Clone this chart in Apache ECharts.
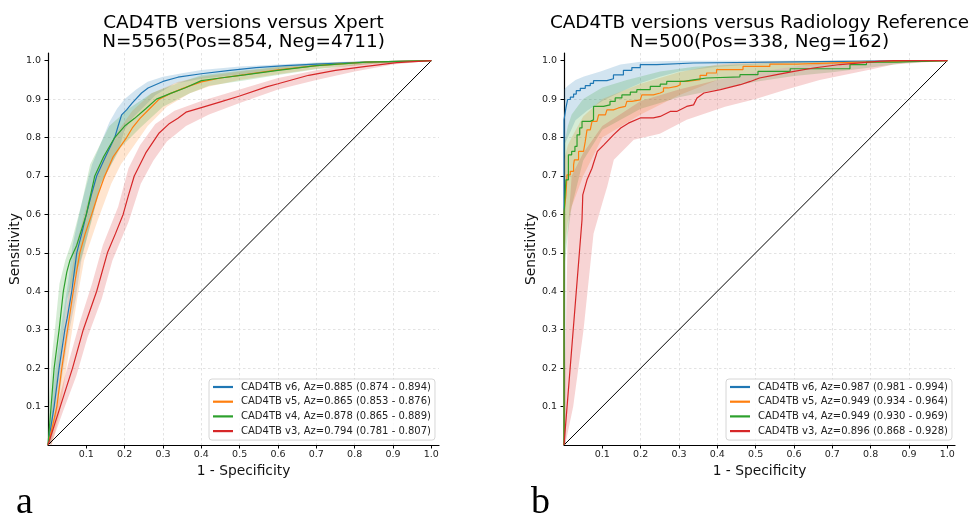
<!DOCTYPE html>
<html><head><meta charset="utf-8">
<script src="https://cdn.jsdelivr.net/npm/echarts@6/dist/echarts.min.js"></script>
<style>html,body{margin:0;padding:0;background:#fff}#c{width:974px;height:520px}</style>
</head><body><div id="c"></div>
<script>
// ---------- data ----------
const TICKS = [0.1,0.2,0.3,0.4,0.5,0.6,0.7,0.8,0.9,1.0];
const NAMES_A = ['CAD4TB v6, Az=0.885 (0.874 - 0.894)','CAD4TB v5, Az=0.865 (0.853 - 0.876)','CAD4TB v4, Az=0.878 (0.865 - 0.889)','CAD4TB v3, Az=0.794 (0.781 - 0.807)'];
const NAMES_B = ['CAD4TB v6, Az=0.987 (0.981 - 0.994)','CAD4TB v5, Az=0.949 (0.934 - 0.964)','CAD4TB v4, Az=0.949 (0.930 - 0.969)','CAD4TB v3, Az=0.896 (0.868 - 0.928)'];
const TITLE_A = 'CAD4TB versions versus Xpert\nN=5565(Pos=854, Neg=4711)';
const TITLE_B = 'CAD4TB versions versus Radiology Reference\nN=500(Pos=338, Neg=162)';
const PANEL_LABELS = ['a', 'b'];
const CHANCE = [[0,0],[1,1]];

// panel a: ROC curves [fpr, tpr]
const A_V6 = [[0,0],[0.008,0.05],[0.016,0.1],[0.029,0.2],[0.044,0.3],[0.05,0.33],[0.062,0.4],[0.075,0.5],[0.088,0.55],[0.10,0.6],[0.113,0.65],[0.127,0.7],[0.15,0.75],[0.174,0.8],[0.183,0.83],[0.192,0.859],[0.205,0.872],[0.22,0.89],[0.244,0.916],[0.261,0.929],[0.30,0.946],[0.339,0.957],[0.4,0.966],[0.469,0.974],[0.543,0.982],[0.62,0.987],[0.7,0.991],[0.83,0.996],[1,1]];
const A_V5 = [[0,0],[0.012,0.05],[0.023,0.1],[0.036,0.2],[0.051,0.3],[0.066,0.4],[0.083,0.5],[0.097,0.55],[0.114,0.6],[0.13,0.65],[0.148,0.7],[0.17,0.75],[0.205,0.8],[0.22,0.825],[0.24,0.85],[0.265,0.875],[0.29,0.9],[0.32,0.915],[0.357,0.93],[0.4,0.945],[0.45,0.955],[0.5,0.962],[0.6,0.976],[0.7,0.987],[0.83,0.996],[1,1]];
const A_V4 = [[0,0],[0.004,0.05],[0.008,0.1],[0.016,0.2],[0.029,0.3],[0.04,0.4],[0.049,0.45],[0.057,0.48],[0.075,0.52],[0.10,0.6],[0.122,0.7],[0.145,0.75],[0.174,0.8],[0.2,0.83],[0.226,0.85],[0.255,0.875],[0.283,0.9],[0.32,0.915],[0.357,0.929],[0.4,0.948],[0.45,0.955],[0.513,0.963],[0.6,0.975],[0.7,0.987],[0.83,0.9965],[1,1]];
const A_V3 = [[0,0],[0.032,0.1],[0.064,0.2],[0.092,0.3],[0.127,0.4],[0.155,0.5],[0.176,0.55],[0.196,0.6],[0.21,0.65],[0.225,0.7],[0.255,0.76],[0.29,0.812],[0.315,0.835],[0.339,0.85],[0.36,0.866],[0.4,0.878],[0.45,0.893],[0.5,0.908],[0.57,0.932],[0.6,0.94],[0.68,0.962],[0.75,0.975],[0.83,0.985],[0.91,0.995],[1,1]];
// panel a: confidence bands (upper / lower edges)
const A_V6_HI = [[0,0.01],[0.01,0.12],[0.022,0.22],[0.036,0.32],[0.052,0.42],[0.064,0.52],[0.088,0.63],[0.115,0.73],[0.16,0.84],[0.18,0.875],[0.2,0.9],[0.23,0.925],[0.26,0.945],[0.3,0.958],[0.35,0.967],[0.4,0.976],[0.5,0.985],[0.6,0.99],[0.7,0.995],[0.85,0.999],[1,1]];
const A_V6_LO = [[0.008,0],[0.022,0.08],[0.037,0.18],[0.052,0.28],[0.072,0.38],[0.087,0.48],[0.112,0.58],[0.14,0.68],[0.185,0.77],[0.2,0.82],[0.22,0.85],[0.25,0.88],[0.28,0.91],[0.33,0.94],[0.4,0.953],[0.5,0.964],[0.6,0.975],[0.7,0.985],[0.85,0.994],[1,1]];
const A_V5_HI = [[0,0.01],[0.015,0.12],[0.028,0.22],[0.043,0.32],[0.057,0.42],[0.073,0.52],[0.1,0.62],[0.132,0.72],[0.155,0.77],[0.185,0.82],[0.22,0.87],[0.27,0.915],[0.34,0.945],[0.4,0.958],[0.5,0.972],[0.6,0.983],[0.7,0.993],[0.85,0.999],[1,1]];
const A_V5_LO = [[0.01,0],[0.03,0.08],[0.045,0.18],[0.06,0.28],[0.076,0.38],[0.094,0.48],[0.128,0.58],[0.165,0.68],[0.19,0.73],[0.225,0.78],[0.26,0.83],[0.31,0.88],[0.37,0.915],[0.42,0.933],[0.5,0.95],[0.6,0.965],[0.7,0.979],[0.85,0.992],[1,1]];
const A_V4_HI = [[0,0.02],[0.003,0.12],[0.009,0.22],[0.02,0.32],[0.03,0.42],[0.045,0.48],[0.062,0.53],[0.088,0.63],[0.11,0.73],[0.16,0.83],[0.21,0.875],[0.27,0.915],[0.34,0.942],[0.4,0.962],[0.5,0.974],[0.6,0.984],[0.7,0.994],[0.85,0.999],[1,1]];
const A_V4_LO = [[0.006,0],[0.014,0.08],[0.025,0.18],[0.038,0.28],[0.05,0.38],[0.066,0.43],[0.085,0.48],[0.113,0.58],[0.137,0.68],[0.19,0.775],[0.24,0.825],[0.3,0.88],[0.37,0.915],[0.42,0.935],[0.52,0.95],[0.6,0.963],[0.7,0.978],[0.85,0.992],[1,1]];
const A_V3_HI = [[0,0.01],[0.026,0.11],[0.055,0.22],[0.083,0.32],[0.115,0.42],[0.143,0.52],[0.183,0.62],[0.21,0.72],[0.24,0.78],[0.28,0.835],[0.33,0.87],[0.4,0.895],[0.5,0.925],[0.6,0.955],[0.7,0.975],[0.8,0.99],[0.9,0.999],[1,1]];
const A_V3_LO = [[0.008,0],[0.04,0.09],[0.074,0.18],[0.103,0.28],[0.14,0.38],[0.168,0.48],[0.21,0.58],[0.242,0.68],[0.275,0.74],[0.31,0.79],[0.36,0.83],[0.42,0.86],[0.5,0.89],[0.6,0.925],[0.7,0.95],[0.8,0.972],[0.9,0.99],[1,1]];

// panel b: staircase ROC curves [fpr, tpr after step]
const B_V6 = [[0,0],[0,0.846],[0.005,0.877],[0.0095,0.899],[0.0165,0.905],[0.025,0.913],[0.032,0.922],[0.0425,0.928],[0.0555,0.935],[0.0685,0.941],[0.077,0.948],[0.112,0.953],[0.129,0.963],[0.155,0.975],[0.177,0.982],[0.199,0.99],[0.242,0.994],[0.3375,0.998],[0.72,1],[1,1]];
const B_V5 = [[0,0],[0,0.604],[0.005,0.651],[0.0078,0.703],[0.0165,0.712],[0.025,0.729],[0.027,0.742],[0.038,0.764],[0.051,0.768],[0.0555,0.79],[0.06,0.82],[0.0685,0.825],[0.073,0.842],[0.086,0.846],[0.0903,0.859],[0.108,0.864],[0.112,0.872],[0.129,0.877],[0.142,0.881],[0.16,0.885],[0.164,0.894],[0.177,0.898],[0.199,0.903],[0.203,0.911],[0.233,0.916],[0.251,0.92],[0.2595,0.929],[0.272,0.933],[0.294,0.9375],[0.303,0.946],[0.32,0.9505],[0.355,0.962],[0.372,0.968],[0.398,0.977],[0.467,0.985],[0.537,0.991],[0.607,0.996],[0.77,1],[1,1]];
const B_V4 = [[0,0],[0,0.599],[0.005,0.69],[0.0115,0.755],[0.02,0.764],[0.0285,0.777],[0.034,0.807],[0.041,0.825],[0.047,0.842],[0.0685,0.846],[0.077,0.881],[0.103,0.885],[0.12,0.894],[0.1336,0.903],[0.151,0.911],[0.173,0.918],[0.19,0.9245],[0.225,0.933],[0.251,0.939],[0.268,0.946],[0.312,0.95],[0.3375,0.955],[0.372,0.958],[0.459,0.9635],[0.506,0.972],[0.59,0.979],[0.746,0.99],[0.789,0.9965],[0.867,1],[1,1]];
const B_V3 = [[0,0],[0.047,0.586],[0.049,0.651],[0.06,0.69],[0.073,0.72],[0.077,0.733],[0.087,0.764],[0.104,0.781],[0.129,0.807],[0.148,0.825],[0.168,0.8375],[0.199,0.851],[0.233,0.851],[0.251,0.855],[0.277,0.868],[0.294,0.868],[0.32,0.881],[0.338,0.885],[0.347,0.903],[0.365,0.916],[0.408,0.9245],[0.46,0.9375],[0.486,0.946],[0.51,0.955],[0.555,0.9635],[0.6,0.972],[0.651,0.981],[0.72,0.99],[0.825,0.999],[0.86,1],[1,1]];
// panel b: confidence bands
const B_V6_HI = [[0,0.925],[0.01,0.935],[0.03,0.95],[0.052,0.959],[0.095,0.972],[0.147,0.99],[0.2,0.997],[0.3,1],[1,1]];
const B_V6_LO = [[0,0.78],[0.01,0.80],[0.03,0.845],[0.06,0.87],[0.1,0.895],[0.15,0.92],[0.2,0.942],[0.25,0.958],[0.3,0.972],[0.4,0.984],[0.5,0.99],[0.7,0.998],[1,1]];
const B_V5_HI = [[0,0.74],[0.01,0.78],[0.02,0.80],[0.05,0.855],[0.1,0.9],[0.2,0.94],[0.3,0.97],[0.4,0.99],[0.5,0.998],[0.6,1],[1,1]];
const B_V5_LO = [[0,0.5],[0.01,0.58],[0.02,0.62],[0.05,0.70],[0.1,0.8],[0.2,0.86],[0.3,0.91],[0.4,0.95],[0.5,0.97],[0.6,0.985],[0.8,0.997],[1,1]];
const B_V4_HI = [[0,0.78],[0.01,0.83],[0.02,0.86],[0.05,0.9],[0.1,0.93],[0.164,0.95],[0.251,0.972],[0.34,0.984],[0.45,0.99],[0.6,0.995],[0.8,1],[1,1]];
const B_V4_LO = [[0,0.45],[0.01,0.55],[0.02,0.62],[0.05,0.74],[0.1,0.82],[0.2,0.875],[0.3,0.905],[0.4,0.925],[0.5,0.945],[0.6,0.96],[0.7,0.97],[0.8,0.982],[0.9,0.995],[1,1]];
const B_V3_HI = [[0,0.05],[0.005,0.3],[0.0095,0.55],[0.02,0.7],[0.05,0.76],[0.1,0.83],[0.2,0.895],[0.3,0.925],[0.4,0.95],[0.5,0.97],[0.6,0.985],[0.7,0.995],[0.8,1],[1,1]];
const B_V3_LO = [[0.003,0],[0.024,0.1],[0.051,0.3],[0.077,0.55],[0.1,0.63],[0.113,0.673],[0.13,0.742],[0.182,0.794],[0.25,0.81],[0.32,0.846],[0.42,0.88],[0.5,0.9],[0.58,0.925],[0.667,0.95],[0.8,0.977],[0.86,0.99],[1,1]];

const COLORS = ['#1f77b4','#ff7f0e','#2ca02c','#d62728'];

// ---------- chart ----------
const FONT = 'DejaVu Sans';
const chart = echarts.init(document.getElementById('c'), null, {renderer:'canvas'});

function xAxis(gi){
  return {gridIndex:gi, type:'value', min:0, max:1.02, interval:0.1,
    axisLine:{show:true, onZero:false, lineStyle:{color:'#000', width:1.2}},
    axisTick:{show:true, customValues:TICKS, length:3.5, lineStyle:{color:'#000', width:1}},
    axisLabel:{customValues:TICKS, formatter:v=>v.toFixed(1), fontSize:9.5, color:'#222', fontFamily:FONT, margin:5},
    splitLine:{show:true, showMaxLine:false, showMinLine:false, lineStyle:{color:'#dcdcdc', width:0.8, type:[2.5,2.5]}},
    name:'1 - Specificity', nameLocation:'middle', nameGap:18,
    nameTextStyle:{fontSize:13.8, color:'#111', fontFamily:FONT}};
}
function yAxis(gi){
  return {gridIndex:gi, type:'value', min:0, max:1.02, interval:0.1,
    axisLine:{show:true, onZero:false, lineStyle:{color:'#000', width:1.2}},
    axisTick:{show:true, customValues:TICKS, length:3.5, lineStyle:{color:'#000', width:1}},
    axisLabel:{customValues:TICKS, formatter:v=>v.toFixed(1), fontSize:9.5, color:'#222', fontFamily:FONT, margin:7},
    splitLine:{show:true, showMaxLine:false, showMinLine:false, lineStyle:{color:'#dcdcdc', width:0.8, type:[2.5,2.5]}},
    name:'Sensitivity', nameLocation:'middle', nameGap:26, nameRotate:90,
    nameTextStyle:{fontSize:13.8, color:'#111', fontFamily:FONT}};
}
function band(gi, hi, lo, color){
  return {type:'custom', name:'band', xAxisIndex:gi, yAxisIndex:gi, silent:true, z:1,
    data:[[0,0]],
    renderItem:function(params, api){
      const pts = hi.map(p=>api.coord(p)).concat(lo.slice().reverse().map(p=>api.coord(p)));
      return {type:'polygon', shape:{points:pts}, style:{fill:color, opacity:0.2}};
    }};
}
function curve(gi, name, data, color, step){
  return {type:'line', name:name, xAxisIndex:gi, yAxisIndex:gi, data:data, step:step||false,
    showSymbol:false, symbol:'none', color:color, lineStyle:{color:color, width:1.2}, z:3, silent:true};
}
function chance(gi){
  return {type:'line', name:'chance', xAxisIndex:gi, yAxisIndex:gi, data:CHANCE, showSymbol:false, symbol:'none',
    lineStyle:{color:'#000', width:1}, z:2, silent:true};
}
function legend(names, left){
  return {data:names, left:left, top:379, orient:'vertical', icon:'rect', itemWidth:20, itemHeight:2.2,
    itemGap:2.7, padding:[2,4,3,4], selectedMode:false,
    textStyle:{fontSize:10, color:'#222', fontFamily:FONT, lineHeight:12, padding:[0,0,0,3]},
    borderColor:'#cccccc', borderWidth:0.8, borderRadius:3, backgroundColor:'rgba(255,255,255,0.8)'};
}

const A_LINES = [A_V6, A_V5, A_V4, A_V3];
const A_HI = [A_V6_HI, A_V5_HI, A_V4_HI, A_V3_HI];
const A_LO = [A_V6_LO, A_V5_LO, A_V4_LO, A_V3_LO];
const B_LINES = [B_V6, B_V5, B_V4, B_V3];
const B_HI = [B_V6_HI, B_V5_HI, B_V4_HI, B_V3_HI];
const B_LO = [B_V6_LO, B_V5_LO, B_V4_LO, B_V3_LO];

const series = [chance(0), chance(1)];
for (let i=0;i<4;i++){ series.push(band(0, A_HI[i], A_LO[i], COLORS[i])); series.push(band(1, B_HI[i], B_LO[i], COLORS[i])); }
for (let i=0;i<4;i++){ series.push(curve(0, NAMES_A[i], A_LINES[i], COLORS[i], false)); }
for (let i=0;i<4;i++){ series.push(curve(1, NAMES_B[i], B_LINES[i], COLORS[i], i===3 ? false : 'end')); }

const titleStyle = {font:'18.4px "DejaVu Sans"', fill:'#000', align:'center', verticalAlign:'top', lineHeight:19.5};
const panelStyle = {font:'38px "Liberation Serif"', fill:'#000', align:'left', verticalAlign:'top'};
chart.setOption({
  animation:false,
  backgroundColor:'#fff',
  grid:[{left:48, top:53, width:391, height:392}, {left:564, top:53, width:391, height:392}],
  xAxis:[xAxis(0), xAxis(1)],
  yAxis:[yAxis(0), yAxis(1)],
  legend:[legend(NAMES_A, 209), legend(NAMES_B, 726)],
  graphic:[
    {type:'text', x:243.5, y:13, style:Object.assign({text:TITLE_A}, titleStyle)},
    {type:'text', x:759.5, y:13, style:Object.assign({text:TITLE_B}, titleStyle)},
    {type:'text', x:16, y:484, style:Object.assign({text:PANEL_LABELS[0]}, panelStyle)},
    {type:'text', x:531, y:484, style:Object.assign({text:PANEL_LABELS[1]}, panelStyle)}
  ],
  series:series
});
</script></body></html>
